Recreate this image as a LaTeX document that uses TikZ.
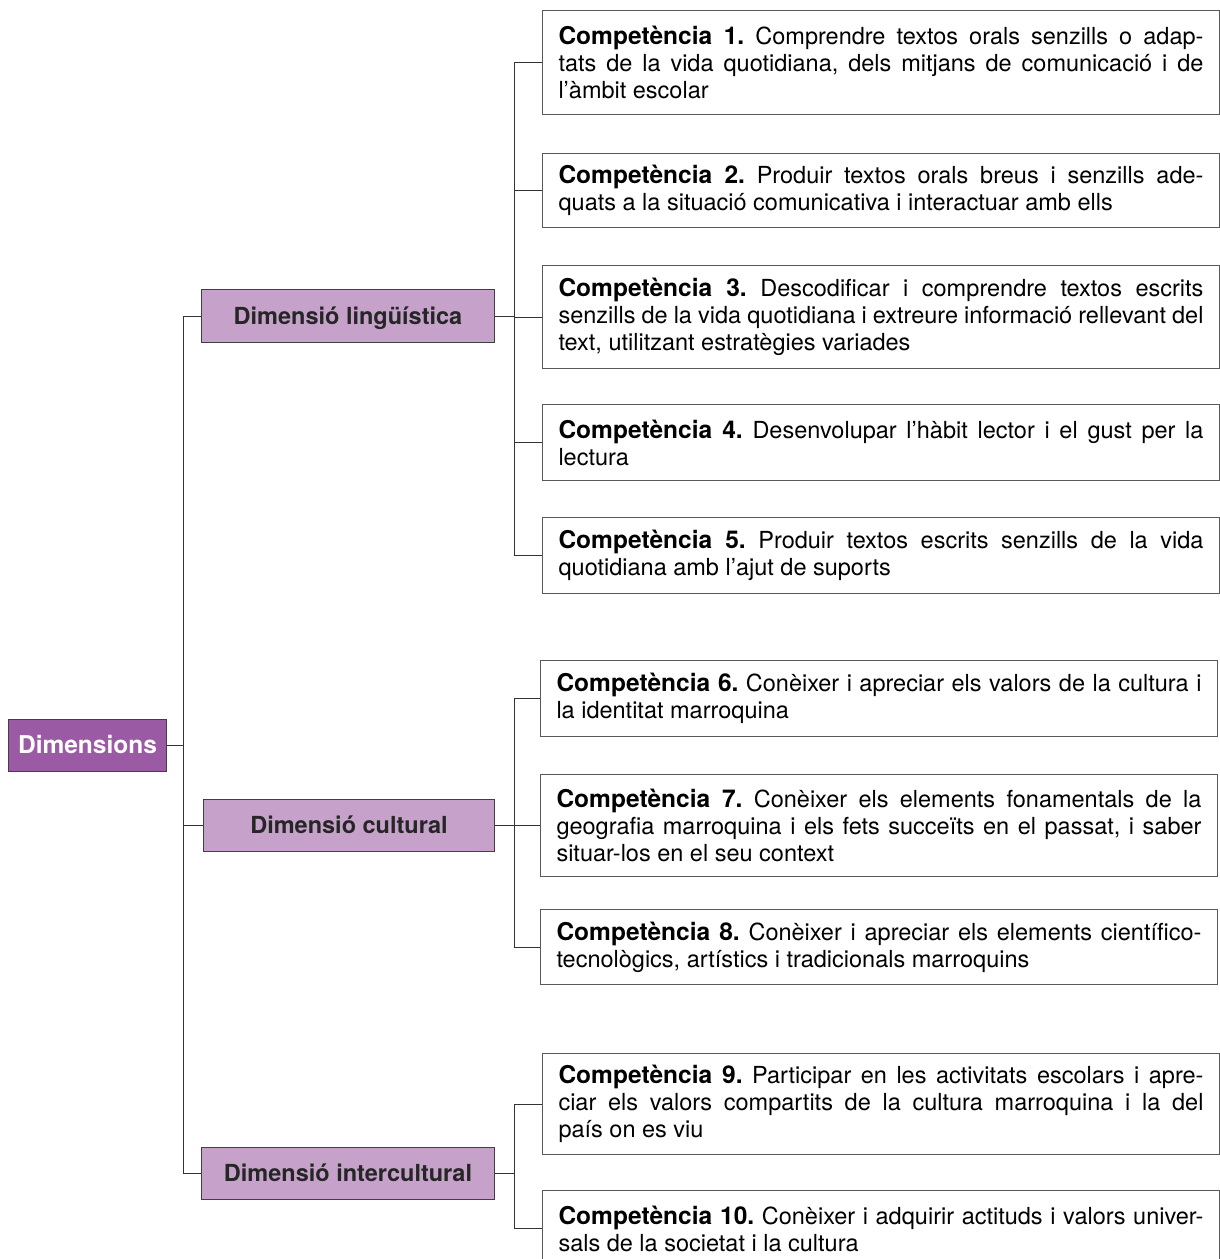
\documentclass[tikz,border=0pt]{standalone}
\usepackage{fontspec}
\setmainfont{TeX Gyre Heros}
\definecolor{darkpurple}{HTML}{9B5AA4}
\definecolor{lightpurple}{HTML}{C6A2CB}
\hyphenpenalty=10000
\tolerance=9999
\frenchspacing
\newcommand{\compt}[1]{{\fontsize{24.5}{27}\selectfont\bfseries #1}}
\begin{document}
\begin{tikzpicture}[x=1pt,y=-1pt,
  comp/.style={draw=black!65, line width=1pt, fill=white, anchor=north west,
    text width=645pt, inner xsep=16pt, inner ysep=0pt, align=justify,
    font=\fontsize{23.5}{27}\selectfont\frenchspacing},
  lvl/.style={draw=black!75, line width=1pt, fill=lightpurple, anchor=north west,
    inner sep=0pt, font=\fontsize{23.5}{26}\selectfont\bfseries, text=black!85,
    text height=17pt, text depth=0.5pt},
  link/.style={draw=black!80, line width=1pt}]
\useasboundingbox (0,0) rectangle (1219,1259);

% level 0 and 1
\node[lvl, fill=darkpurple, text=white, font=\fontsize{24.5}{27}\selectfont\bfseries,
  minimum width=158pt, minimum height=52pt] (dim) at (8,719) {Dimensions};
\node[lvl, minimum width=293pt, minimum height=53pt] (ling) at (201,289) {Dimensió lingüística};
\node[lvl, minimum width=291pt, minimum height=52pt] (cult) at (203,799) {Dimensió cultural};
\node[lvl, minimum width=293pt, minimum height=52pt] (inter) at (201,1147) {Dimensió intercultural};

% competences
\node[comp, minimum height=104pt] (c1) at (542,10) {\compt{Competència 1.} Comprendre textos orals senzills o adap-\linebreak tats de la vida quotidiana, dels mitjans de comunicació i de\linebreak l’àmbit escolar};
\node[comp, minimum height=74pt] (c2) at (542,153) {\compt{Competència 2.} Produir textos orals breus i senzills ade-\linebreak quats a la situació comunicativa i interactuar amb ells};
\node[comp, minimum height=103pt] (c3) at (542,265) {\compt{Competència 3.} Descodificar i comprendre textos escrits\linebreak senzills de la vida quotidiana i extreure informació rellevant del\linebreak text, utilitzant estratègies variades};
\node[comp, minimum height=76pt] (c4) at (542,404) {\compt{Competència 4.} Desenvolupar l’hàbit lector i el gust per la\linebreak lectura};
\node[comp, minimum height=76pt] (c5) at (542,517) {\compt{Competència 5.} Produir textos escrits senzills de la vida\linebreak quotidiana amb l’ajut de suports};

\node[comp, minimum height=76pt] (c6) at (540,660) {\compt{Competència 6.} Conèixer i apreciar els valors de la cultura i\linebreak la identitat marroquina};
\node[comp, minimum height=102pt] (c7) at (540,774) {\compt{Competència 7.} Conèixer els elements fonamentals de la\linebreak geografia marroquina i els fets succeïts en el passat, i saber\linebreak situar-los en el seu context};
\node[comp, minimum height=75pt] (c8) at (540,909) {\compt{Competència 8.} Conèixer i apreciar els elements científico-\linebreak tecnològics, artístics i tradicionals marroquins};

\node[comp, minimum height=101pt] (c9) at (542,1053) {\compt{Competència 9.} Participar en les activitats escolars i apre-\linebreak ciar els valors compartits de la cultura marroquina i la del\linebreak país on es viu};
\node[comp, minimum height=76pt] (c10) at (542,1190) {\compt{Competència 10.} Conèixer i adquirir actituds i valors univer-\linebreak sals de la societat i la cultura};

% connectors
\coordinate (s0) at (183,0);
\coordinate (s1) at (514,0);
\draw[link] (dim.east) -- (dim.east -| s0);
\draw[link] (ling.west) -- (ling.west -| s0) -- (inter.west -| s0) -- (inter.west);
\draw[link] (cult.west) -- (cult.west -| s0);

\draw[link] (ling.east) -- (ling.east -| s1);
\draw[link] (c1.west) -- (c1.west -| s1) -- (c5.west -| s1) -- (c5.west);
\foreach \c in {c2,c3,c4} \draw[link] (\c.west) -- (\c.west -| s1);

\draw[link] (cult.east) -- (cult.east -| s1);
\draw[link] (c6.west) -- (c6.west -| s1) -- (c8.west -| s1) -- (c8.west);
\draw[link] (c7.west) -- (c7.west -| s1);

\draw[link] (inter.east) -- (inter.east -| s1);
\draw[link] (c9.west) -- (c9.west -| s1) -- (c10.west -| s1) -- (c10.west);
\end{tikzpicture}
\end{document}
